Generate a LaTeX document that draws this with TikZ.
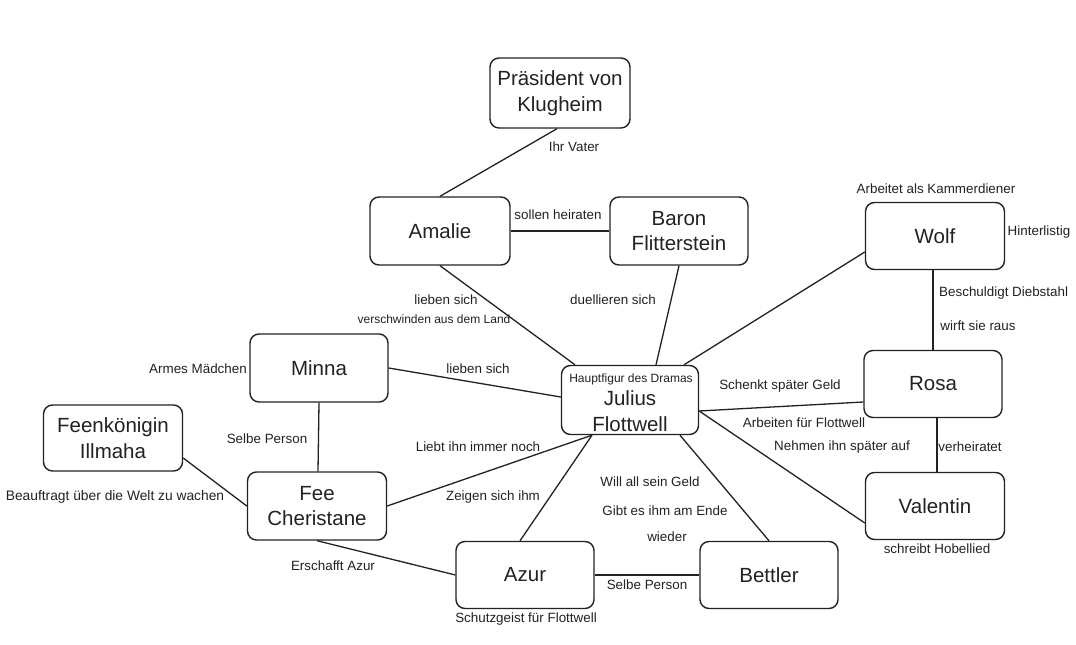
\documentclass[tikz,border=0pt]{standalone}
\usepackage{fontspec}
\setmainfont{Liberation Sans}
\definecolor{ink}{HTML}{222222}
\tikzset{
  box/.style={draw=ink, line width=1.4pt, rounded corners=9pt, minimum width=138pt, minimum height=67pt, align=center, text=ink, font=\fontsize{20.5}{25.5}\selectfont, inner sep=0pt},
  lbl/.style={text=ink, font=\fontsize{13.4}{15}\selectfont, inner sep=0pt},
  slbl/.style={text=ink, font=\fontsize{12}{14}\selectfont, inner sep=0pt},
  edge/.style={draw=ink, line width=1.3pt},
}
\begin{document}
\begin{tikzpicture}[x=1pt,y=-1pt]
\useasboundingbox (0,0) rectangle (1076,645);
\fill[white] (0,0) rectangle (1076,645);
% nodes
\node[box, minimum width=140pt, minimum height=70pt] (pres) at (560,93) {Präsident von\\Klugheim};
\node[box, minimum width=140pt, minimum height=68pt] (amalie) at (440,231) {Amalie};
\node[box, minimum height=68pt] (baron) at (679,231) {Baron\\Flitterstein};
\node[box, minimum width=139pt] (wolf) at (935,236) {Wolf};
\node[box, minimum height=68pt] (minna) at (319,368) {Minna};
\node[box, minimum width=137pt, minimum height=69pt] (julius) at (630,400) {};
\node[text=ink, font=\fontsize{20.5}{25.5}\selectfont, align=center, inner sep=0pt] (jname) at (630,411) {Julius\\Flottwell};
\node[slbl] (haupt) at (631,379) {Hauptfigur des Dramas};
\node[box] (rosa) at (933,384) {Rosa};
\node[box, minimum width=139pt, minimum height=66pt] (feen) at (113,438) {Feenkönigin\\Illmaha};
\node[box, minimum width=139pt, minimum height=68pt] (fee) at (317,506) {Fee\\Cheristane};
\node[box, minimum width=139pt] (valentin) at (935,506) {Valentin};
\node[box] (azur) at (525,575) {Azur};
\node[box] (bettler) at (769,575) {Bettler};
% edges
\draw[edge] ([xshift=-3pt]pres.south) -- (amalie.north);
\draw[edge] (amalie.east) -- (baron.west);
\draw[edge] (amalie.south) -- ([xshift=-55pt]julius.north);
\draw[edge] (baron.south) -- ([xshift=26pt]julius.north);
\draw[edge] ([yshift=-16pt]wolf.west) -- ([xshift=54pt]julius.north);
\draw[edge] ([xshift=-2pt]wolf.south) -- (rosa.north);
\draw[edge] (minna.east) -- ([yshift=3pt]julius.west);
\draw[edge] (minna.south) -- ([xshift=1pt]fee.north);
\draw[edge] ([yshift=-11pt]julius.east) -- ([yshift=-18pt]rosa.west);
\draw[edge] ([yshift=-11pt]julius.east) -- ([yshift=-17pt]valentin.west);
\draw[edge] ([xshift=4pt]rosa.south) -- ([xshift=2pt]valentin.north);
\draw[edge] ([xshift=-38pt]julius.south) -- (fee.east);
\draw[edge] ([xshift=-38pt]julius.south) -- ([xshift=-5pt]azur.north);
\draw[edge] ([xshift=50pt]julius.south) -- (bettler.north);
\draw[edge] ([yshift=-20pt]feen.east) -- (fee.west);
\draw[edge] (fee.south) -- (azur.west);
\draw[edge] (azur.east) -- (bettler.west);
% labels
\node[lbl] (l1) at (574,147) {Ihr Vater};
\node[lbl] (l2) at (558,215) {sollen heiraten};
\node[lbl] (l3) at (446,300) {lieben sich};
\node[slbl] (l4) at (434,319) {verschwinden aus dem Land};
\node[lbl] (l5) at (613,300) {duellieren sich};
\node[lbl] (l6) at (936,189) {Arbeitet als Kammerdiener};
\node[lbl] (l7) at (1039,232) {Hinterlistig};
\node[lbl, anchor=west] (l8) at (939,293) {Beschuldigt Diebstahl};
\node[lbl] (l9) at (978,326) {wirft sie raus};
\node[lbl] (l10) at (198,369) {Armes Mädchen};
\node[lbl] (l11) at (478,369) {lieben sich};
\node[lbl] (l12) at (267,439) {Selbe Person};
\node[lbl] (l13) at (780,386) {Schenkt später Geld};
\node[lbl] (l14) at (804,423) {Arbeiten für Flottwell};
\node[lbl] (l15) at (842,447) {Nehmen ihn später auf};
\node[lbl] (l16) at (970,447) {verheiratet};
\node[lbl] (l17) at (478,447) {Liebt ihn immer noch};
\node[lbl] (l18) at (493,497) {Zeigen sich ihm};
\node[lbl] (l19) at (650,482) {Will all sein Geld};
\node[lbl] (l20) at (665,511) {Gibt es ihm am Ende};
\node[lbl] (l21) at (667,537) {wieder};
\node[lbl, font=\fontsize{13.8}{15}\selectfont] (l22) at (115,497) {Beauftragt über die Welt zu wachen};
\node[lbl] (l23) at (333,566) {Erschafft Azur};
\node[lbl] (l24) at (647,585) {Selbe Person};
\node[lbl] (l25) at (937,549) {schreibt Hobellied};
\node[lbl] (l26) at (526,619) {Schutzgeist für Flottwell};
\end{tikzpicture}
\end{document}
